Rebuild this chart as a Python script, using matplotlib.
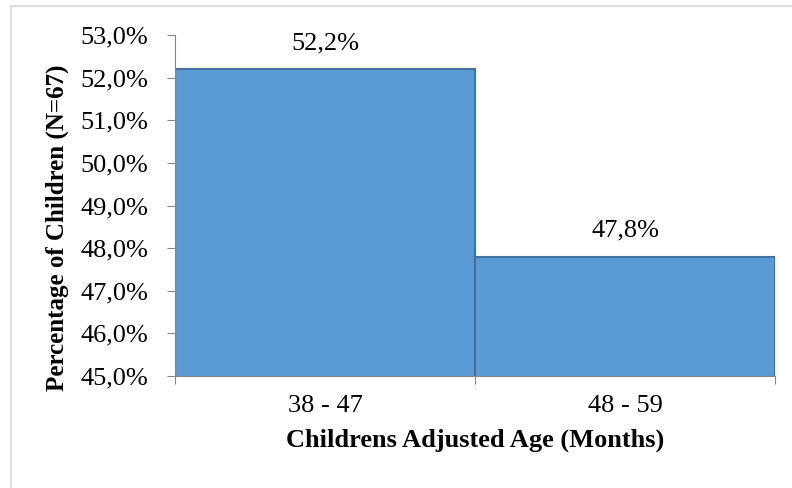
import numpy as np
import matplotlib.pyplot as plt
from matplotlib.ticker import FuncFormatter

categories = ['38 - 47', '48 - 59']
percent = [52.2, 47.8]
labels = ['52,2%', '47,8%']

plt.rcParams['font.family'] = ['Liberation Serif', 'DejaVu Serif']

fig = plt.figure(figsize=(7.92, 4.88), dpi=100)
ax = fig.add_axes([175/792, 1-376/488, 600/792, 341/488])

# light frame round the chart area (right and bottom edges run off the image)
fig.patches.append(plt.Rectangle((11/792, -0.1), 1.0, 1 - 6/488 + 0.1, transform=fig.transFigure,
                                 fill=False, edgecolor='#d9d9d9', linewidth=1.2))

x = np.arange(len(categories))
ax.bar(x, percent, width=1.0, color='#5b9bd5', edgecolor='#41719c', linewidth=1.5)
for xi, v, lab in zip(x, percent, labels):
    ax.text(xi, v + 0.35, lab, ha='center', va='bottom', fontsize=19)

ax.set_ylim(45, 53)
ax.set_xlim(-0.5, 1.5)
ax.set_yticks(np.arange(45, 53.1, 1))
ax.yaxis.set_major_formatter(FuncFormatter(lambda v, p: ('%.1f%%' % v).replace('.', ',')))
ax.tick_params(axis='y', labelsize=19, length=6, color='#868686', pad=13)

ax.set_xticks([-0.5, 0.5, 1.5])
ax.set_xticklabels([])
ax.tick_params(axis='x', which='major', length=6, color='#868686')
ax.set_xticks(x, minor=True)
ax.set_xticklabels(categories, minor=True, fontsize=19)
ax.tick_params(axis='x', which='minor', length=0, pad=14)

for s in ['top', 'right']:
    ax.spines[s].set_visible(False)
for s in ['left', 'bottom']:
    ax.spines[s].set_color('#868686')

ax.set_xlabel('Childrens Adjusted Age (Months)', fontsize=19, fontweight='bold', labelpad=8)
ax.set_ylabel('Percentage of Children (N=67)', fontsize=18, fontweight='bold')
ax.yaxis.set_label_coords(-0.177, 0.434)

fig.savefig('out.png', dpi=100)
